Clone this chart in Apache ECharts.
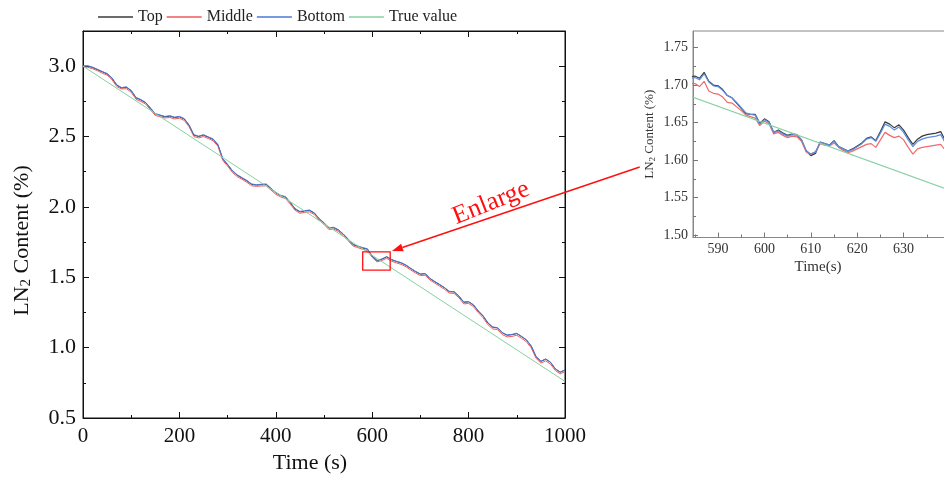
<!DOCTYPE html>
<html><head><meta charset="utf-8">
<script src="https://cdn.jsdelivr.net/npm/echarts@6/dist/echarts.min.js"></script>
<style>html,body{margin:0;padding:0;background:#fff}#c{width:944px;height:481px}</style>
</head><body><div id="c"></div>
<script>
const timeMain = [0,10,20,30,40,50,60,70,80,90,100,110,120,130,140,150,160,170,180,190,200,210,220,230,240,250,260,270,280,290,300,310,320,330,340,350,360,370,380,390,400,410,420,430,440,450,460,470,480,490,500,510,520,530,540,550,560,570,580,590,600,610,620,630,640,650,660,670,680,690,700,710,720,730,740,750,760,770,780,790,800,810,820,830,840,850,860,870,880,890,900,910,920,930,940,950,960,970,980,990,1000];
const topMain = [3.000,3.000,2.990,2.975,2.960,2.945,2.915,2.865,2.845,2.850,
 2.825,2.775,2.760,2.740,2.700,2.660,2.650,2.640,2.645,2.635,
 2.640,2.625,2.580,2.510,2.500,2.510,2.495,2.480,2.440,2.340,
 2.300,2.255,2.225,2.205,2.185,2.160,2.155,2.158,2.160,2.130,
 2.100,2.080,2.070,2.030,1.985,1.965,1.970,1.975,1.955,1.915,
 1.885,1.850,1.852,1.835,1.805,1.770,1.732,1.720,1.708,1.700,
 1.650,1.618,1.628,1.645,1.625,1.612,1.602,1.585,1.562,1.540,
 1.522,1.525,1.490,1.468,1.447,1.425,1.398,1.396,1.365,1.322,
 1.325,1.303,1.260,1.225,1.175,1.145,1.140,1.105,1.088,1.092,
 1.100,1.078,1.054,1.010,0.935,0.902,0.918,0.895,0.848,0.825,
 0.840];
const middleMain = [2.995,2.992,2.982,2.968,2.950,2.937,2.905,2.855,2.838,2.840,
 2.815,2.765,2.750,2.731,2.690,2.650,2.640,2.632,2.636,2.625,
 2.630,2.615,2.570,2.500,2.490,2.500,2.486,2.470,2.430,2.330,
 2.290,2.245,2.215,2.196,2.175,2.150,2.146,2.149,2.150,2.120,
 2.090,2.071,2.060,2.020,1.976,1.955,1.961,1.965,1.946,1.905,
 1.876,1.840,1.843,1.825,1.796,1.760,1.723,1.711,1.699,1.690,
 1.641,1.609,1.619,1.635,1.615,1.602,1.592,1.575,1.552,1.530,
 1.512,1.514,1.480,1.458,1.437,1.414,1.388,1.385,1.354,1.311,
 1.314,1.292,1.249,1.213,1.163,1.133,1.128,1.093,1.076,1.080,
 1.088,1.066,1.042,0.998,0.924,0.890,0.906,0.883,0.837,0.814,
 0.829];
const bottomMain = [3.002,3.003,2.993,2.978,2.962,2.948,2.918,2.868,2.848,2.853,
 2.828,2.778,2.763,2.743,2.703,2.663,2.653,2.643,2.648,2.638,
 2.643,2.628,2.583,2.513,2.503,2.513,2.498,2.483,2.443,2.343,
 2.303,2.258,2.228,2.208,2.188,2.163,2.158,2.161,2.163,2.133,
 2.103,2.083,2.073,2.033,1.988,1.968,1.973,1.978,1.958,1.918,
 1.888,1.853,1.855,1.838,1.808,1.773,1.735,1.723,1.711,1.703,
 1.652,1.620,1.630,1.647,1.627,1.614,1.604,1.587,1.564,1.542,
 1.524,1.527,1.492,1.470,1.449,1.427,1.400,1.398,1.367,1.324,
 1.327,1.305,1.262,1.227,1.177,1.147,1.142,1.107,1.090,1.094,
 1.102,1.080,1.056,1.012,0.937,0.904,0.920,0.897,0.850,0.827,
 0.842];
const trueTime = [0, 1000];
const trueMain = [3.0, 0.76];

const timeInset = [584,585,586,587,588,589,590,591,592,593,594,595,596,597,598,599,600,601,602,603,604,605,606,607,608,609,610,611,612,613,614,615,616,617,618,619,620,621,622,623,624,625,626,627,628,629,630,631,632,633,634,635,636,637,638,639];
const topInset = [1.711,1.712,1.709,1.717,1.705,1.700,1.699,1.694,1.686,1.683,1.676,1.669,1.662,1.661,1.661,1.649,1.655,1.651,1.637,1.640,1.636,1.633,1.635,1.634,1.627,1.612,1.606,1.609,1.624,1.622,1.620,1.626,1.618,1.615,1.612,1.615,1.619,1.623,1.629,1.631,1.626,1.638,1.651,1.648,1.643,1.647,1.640,1.630,1.621,1.628,1.632,1.634,1.635,1.636,1.638,1.626];
const middleInset = [1.702,1.702,1.698,1.705,1.692,1.689,1.688,1.684,1.677,1.676,1.671,1.666,1.660,1.658,1.656,1.646,1.652,1.648,1.635,1.637,1.633,1.630,1.632,1.631,1.625,1.611,1.608,1.611,1.622,1.620,1.619,1.623,1.617,1.613,1.610,1.612,1.615,1.618,1.621,1.622,1.617,1.627,1.637,1.633,1.630,1.632,1.627,1.617,1.608,1.615,1.617,1.618,1.619,1.620,1.621,1.613];
const bottomInset = [1.709,1.710,1.707,1.715,1.704,1.699,1.698,1.693,1.686,1.683,1.677,1.670,1.663,1.661,1.660,1.648,1.654,1.650,1.637,1.639,1.635,1.632,1.634,1.633,1.627,1.613,1.608,1.611,1.624,1.622,1.620,1.625,1.618,1.615,1.612,1.614,1.618,1.622,1.628,1.630,1.625,1.636,1.648,1.645,1.640,1.644,1.637,1.627,1.618,1.625,1.628,1.630,1.631,1.632,1.634,1.623];
const trueInsetTime = [584, 639];
const trueInset = [1.685, 1.562];

const insetXTicks = [590,600,610,620,630,640];
const insetXLabels = [590,600,610,620,630];
const insetXMinor = [585,595,605,615,625,635];
const insetYTicks = [1.50,1.55,1.60,1.65,1.70,1.75];
const insetYMinor = [1.525,1.575,1.625,1.675,1.725];

const seriesNames = ['Top','Middle','Bottom','True value'];
const colors = ['#3a3a3a','#f05a5a','#4a78d8','#88d0a0'];
const insetColors = ['#3a3a3a','#f06a6a','#5a8ee0','#88d0a0'];

const F = 'Liberation Serif';
function pairs(xs, ys){ return xs.map((x,i)=>[x, ys[i]]); }

const chart = echarts.init(document.getElementById('c'));

function mainAxis(extra){
  return Object.assign({
    type:'value', gridIndex:0,
    axisLine:{show:true, onZero:false, lineStyle:{color:'#111', width:1}},
    axisTick:{show:true, inside:true, length:6, lineStyle:{color:'#111', width:1}},
    minorTick:{show:true, splitNumber:2, length:3, lineStyle:{color:'#111', width:1}},
    splitLine:{show:false}, minorSplitLine:{show:false}
  }, extra);
}

const option = {
  animation:false,
  backgroundColor:'#fff',
  color: colors,
  legend:{
    data: seriesNames, left:93, top:4, itemWidth:35, itemHeight:1.5, itemGap:4,
    icon:'rect',
    textStyle:{fontFamily:F, fontSize:16, color:'#222'}
  },
  grid:[
    {left:83, right:379, top:31, bottom:63, show:true, borderColor:'#111', borderWidth:1, backgroundColor:'transparent', outerBoundsMode:'none'},
    {left:693, top:31, width:257, height:206.5, show:true, borderColor:'#888', borderWidth:1, backgroundColor:'transparent', outerBoundsMode:'none'}
  ],
  xAxis:[
    mainAxis({
      min:0, max:1000, interval:200, position:'bottom',
      name:'Time (s)', nameLocation:'middle', nameGap:31,
      nameTextStyle:{fontFamily:F, fontSize:22, color:'#111', padding:[0,28,0,0]},
      axisLabel:{fontFamily:F, fontSize:21, color:'#111', margin:8, formatter:(v)=>String(v)}
    }),
    mainAxis({
      min:0, max:1000, interval:200, position:'top',
      axisLabel:{show:false}
    }),
    {
      type:'value', gridIndex:1, min:584.6, max:640, position:'bottom',
      axisLine:{show:true, onZero:false, lineStyle:{color:'#888', width:1}},
      axisTick:{show:true, inside:true, length:5, customValues:insetXTicks, lineStyle:{color:'#777'}},
      axisLabel:{fontFamily:F, fontSize:14, color:'#333', margin:5, customValues:insetXLabels},
      splitLine:{show:false},
      name:'Time(s)', nameLocation:'middle', nameGap:22,
      nameTextStyle:{fontFamily:F, fontSize:15, color:'#333', padding:[0,7,0,0]}
    },
    {
      type:'value', gridIndex:1, min:584.6, max:640, position:'bottom',
      axisLine:{show:false, onZero:false},
      axisTick:{show:true, inside:true, length:3, customValues:insetXMinor, lineStyle:{color:'#777'}},
      axisLabel:{show:false, customValues:insetXMinor},
      splitLine:{show:false}
    }
  ],
  yAxis:[
    mainAxis({
      min:0.5, max:3.25, interval:0.5, position:'left',
      name:'LN{s|2} Content (%)', nameLocation:'middle', nameGap:49, nameRotate:90,
      nameTextStyle:{fontFamily:F, fontSize:22, color:'#111', padding:[0,32,0,0],
        rich:{s:{fontFamily:F, fontSize:15, color:'#111', padding:[9,0,0,0]}}},
      axisLabel:{fontFamily:F, fontSize:22, color:'#111', margin:7, showMaxLabel:false,
        formatter:(v)=>v.toFixed(1)}
    }),
    mainAxis({
      min:0.5, max:3.25, interval:0.5, position:'right',
      axisLabel:{show:false}
    }),
    {
      type:'value', gridIndex:1, min:1.497, max:1.772, position:'left',
      axisLine:{show:true, onZero:false, lineStyle:{color:'#888', width:1}},
      axisTick:{show:true, inside:true, length:5, customValues:insetYTicks, lineStyle:{color:'#777'}},
      axisLabel:{fontFamily:F, fontSize:14, color:'#333', margin:5, customValues:insetYTicks,
        formatter:(v)=>v.toFixed(2)},
      splitLine:{show:false},
      name:'LN{s|2} Content (%)', nameLocation:'middle', nameGap:36, nameRotate:90,
      nameTextStyle:{fontFamily:F, fontSize:13, color:'#333',
        rich:{s:{fontFamily:F, fontSize:9, color:'#333', padding:[5,0,0,0]}}}
    },
    {
      type:'value', gridIndex:1, min:1.497, max:1.772, position:'left',
      axisLine:{show:false, onZero:false},
      axisTick:{show:true, inside:true, length:3, customValues:insetYMinor, lineStyle:{color:'#777'}},
      axisLabel:{show:false, customValues:insetYMinor},
      splitLine:{show:false}
    }
  ],
  series:[
    {name:'Top', type:'line', xAxisIndex:0, yAxisIndex:0, data:pairs(timeMain, topMain), symbol:'none', lineStyle:{width:1, color:colors[0]}, itemStyle:{color:colors[0]}},
    {name:'Middle', type:'line', xAxisIndex:0, yAxisIndex:0, data:pairs(timeMain, middleMain), symbol:'none', lineStyle:{width:1, color:colors[1]}, itemStyle:{color:colors[1]}},
    {name:'Bottom', type:'line', xAxisIndex:0, yAxisIndex:0, data:pairs(timeMain, bottomMain), symbol:'none', lineStyle:{width:1, color:colors[2]}, itemStyle:{color:colors[2]}},
    {name:'True value', type:'line', xAxisIndex:0, yAxisIndex:0, data:pairs(trueTime, trueMain), symbol:'none', lineStyle:{width:1, color:colors[3]}, itemStyle:{color:colors[3]}},
    {name:'Top', type:'line', xAxisIndex:2, yAxisIndex:2, data:pairs(timeInset, topInset), symbol:'none', lineStyle:{width:1.2, color:insetColors[0]}, itemStyle:{color:colors[0]}},
    {name:'Middle', type:'line', xAxisIndex:2, yAxisIndex:2, data:pairs(timeInset, middleInset), symbol:'none', lineStyle:{width:1.2, color:insetColors[1]}, itemStyle:{color:colors[1]}},
    {name:'Bottom', type:'line', xAxisIndex:2, yAxisIndex:2, data:pairs(timeInset, bottomInset), symbol:'none', lineStyle:{width:1.2, color:insetColors[2]}, itemStyle:{color:colors[2]}},
    {name:'True value', type:'line', xAxisIndex:2, yAxisIndex:2, data:pairs(trueInsetTime, trueInset), symbol:'none', lineStyle:{width:1.2, color:insetColors[3]}, itemStyle:{color:colors[3]}}
  ]
};
chart.setOption(option);

// Annotation: zoom box + arrow + label, positioned from data coordinates
const boxA = chart.convertToPixel({gridIndex:0}, [580.3, 1.681]);
const boxB = chart.convertToPixel({gridIndex:0}, [637.3, 1.551]);
const tip = chart.convertToPixel({gridIndex:0}, [641, 1.686]);
const start = chart.convertToPixel({gridIndex:0}, [1155, 2.283]);
const dx = start[0]-tip[0], dy = start[1]-tip[1];
const L = Math.sqrt(dx*dx+dy*dy), ux = dx/L, uy = dy/L;
const hl = 11, hw = 4;
const base = [tip[0]+ux*hl, tip[1]+uy*hl];
chart.setOption({
  graphic:[
    {type:'rect', shape:{x:boxA[0], y:boxA[1], width:boxB[0]-boxA[0], height:boxB[1]-boxA[1]},
     style:{fill:'none', stroke:'#ff1010', lineWidth:1.3}, z:100},
    {type:'line', shape:{x1:start[0], y1:start[1], x2:base[0], y2:base[1]},
     style:{stroke:'#ff1010', lineWidth:1.5}, z:100},
    {type:'polygon', shape:{points:[tip, [base[0]-uy*hw, base[1]+ux*hw], [base[0]+uy*hw, base[1]-ux*hw]]},
     style:{fill:'#ff1010'}, z:100},
    {type:'text', x:491, y:203, rotation:0.38, z:100,
     style:{text:'Enlarge', fill:'#ff1010', font:'26px "Liberation Serif"', align:'center', verticalAlign:'middle'}}
  ]
});
</script></body></html>
